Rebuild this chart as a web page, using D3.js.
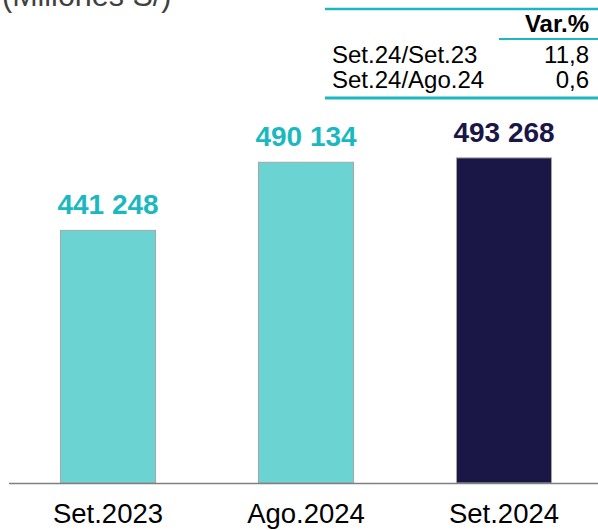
<!DOCTYPE html>
<html>
<head>
<meta charset="utf-8">
<script src="https://cdn.jsdelivr.net/npm/d3@7"></script>
<style>
  html, body { margin: 0; padding: 0; background: #fff; }
  svg { display: block; font-family: "Liberation Sans", Arial, sans-serif; }
</style>
</head>
<body>
<svg id="chart" width="598" height="530"></svg>
<script>
const categories = ["Set.2023", "Ago.2024", "Set.2024"];
const values = [441248, 490134, 493268];
const valueLabels = ["441 248", "490 134", "493 268"];
const highlight = [false, false, true];
const tableRows = ["Set.24/Set.23", "Set.24/Ago.24"];
const tableValues = ["11,8", "0,6"];
const tableHeader = "Var.%";
const unitLabel = "(Millones S/)";

const svg = d3.select("#chart");
const teal = "#1CB8BF";
const barTeal = "#6BD4D2";
const navy = "#1A1646";

const x = d3.scaleBand().domain(categories).range([9, 603]).paddingInner(0.52).paddingOuter(0.26);
const y = d3.scaleLinear().domain([260000, 500000]).range([483, 148.5]);

// Title (partially cropped at top)
svg.append("text").attr("x", 2).attr("y", 6)
  .attr("font-size", 30.5).attr("fill", "#404040").text(unitLabel);

// Bars
svg.selectAll("rect.bar").data(values).join("rect")
  .attr("class", "bar")
  .attr("x", (d, i) => x(categories[i]))
  .attr("width", x.bandwidth())
  .attr("y", d => y(d))
  .attr("height", d => y.range()[0] - y(d))
  .attr("fill", (d, i) => highlight[i] ? navy : barTeal)
  .attr("stroke", "#a6a6a6").attr("stroke-width", 1);

// Value labels
svg.selectAll("text.val").data(values).join("text")
  .attr("class", "val")
  .attr("x", (d, i) => x(categories[i]) + x.bandwidth() / 2)
  .attr("y", d => y(d) - 16)
  .attr("text-anchor", "middle")
  .attr("font-size", 28).attr("font-weight", "bold")
  .attr("fill", (d, i) => highlight[i] ? navy : teal)
  .text((d, i) => valueLabels[i]);

// Axis
const axis = svg.append("g").attr("transform", `translate(0,${y.range()[0]})`)
  .call(d3.axisBottom(x).tickSize(0).tickPadding(0));
axis.select(".domain").attr("d", "M9,0.5H598").attr("stroke", "#808080").attr("stroke-width", 1.5);
axis.selectAll(".tick text").attr("font-size", 27.5).attr("fill", "#000")
  .attr("font-family", "Liberation Sans, Arial, sans-serif")
  .attr("y", 40).attr("dy", 0);

// Table
const tbl = svg.append("g");
tbl.append("line").attr("x1", 325).attr("x2", 598).attr("y1", 9).attr("y2", 9)
  .attr("stroke", teal).attr("stroke-width", 2.5);
tbl.append("text").attr("x", 589).attr("y", 32).attr("text-anchor", "end")
  .attr("font-size", 24).attr("font-weight", "bold").attr("fill", "#000").text(tableHeader);
tbl.append("line").attr("x1", 499).attr("x2", 598).attr("y1", 39).attr("y2", 39)
  .attr("stroke", teal).attr("stroke-width", 2);
tableRows.forEach((r, i) => {
  tbl.append("text").attr("x", 332).attr("y", 63 + i * 25)
    .attr("font-size", 24).attr("fill", "#000").text(r);
  tbl.append("text").attr("x", 589).attr("y", 63 + i * 25).attr("text-anchor", "end")
    .attr("font-size", 24).attr("fill", "#000").text(tableValues[i]);
});
tbl.append("line").attr("x1", 325).attr("x2", 598).attr("y1", 98).attr("y2", 98)
  .attr("stroke", teal).attr("stroke-width", 3);
</script>
</body>
</html>
